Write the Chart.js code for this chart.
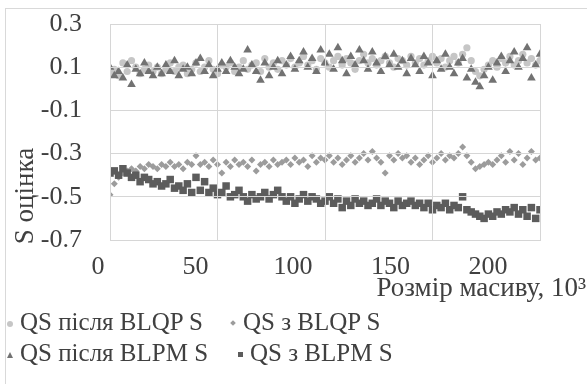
<!DOCTYPE html>
<html lang="uk">
<head>
<meta charset="utf-8">
<script src="https://cdn.jsdelivr.net/npm/chart.js@4/dist/chart.umd.min.js"></script>
<style>
  html, body { margin: 0; padding: 0; background: #fff; }
  #wrap { position: relative; width: 587px; height: 384px; overflow: hidden;
          font-family: "Liberation Serif", serif; color: #404040; }
  #frame { position: absolute; left: 5px; top: 8px; width: 640px; height: 420px; border: 1px solid #d9d9d9; }
  #chart { position: absolute; left: 0; top: 0; }
  .ttl { position: absolute; font-size: 27px; line-height: 30px; white-space: nowrap; }
  #xTitle { right: 1px; top: 272px; }
  #yTitle { left: 24px; top: 196px; transform: translate(-50%, -50%) rotate(-90deg); }
  .item { position: absolute; height: 30px; line-height: 30px; font-size: 25px; white-space: nowrap; }
  .mk { position: absolute; }
  .circle { width: 6px; height: 6px; border-radius: 50%; background: #c6c6c6; }
  .diamond { width: 4px; height: 4px; background: #9c9c9c; transform: rotate(45deg); }
  .triangle { width: 0; height: 0; border-left: 3px solid transparent; border-right: 3px solid transparent; border-bottom: 6px solid #727272; }
  .square { width: 5px; height: 5px; background: #5c5c5c; }
</style>
</head>
<body>
<div id="wrap">
  <div id="frame"></div>
  <canvas id="chart" width="587" height="384"></canvas>
  <div class="ttl" id="xTitle">Розмір масиву, 10³</div>
  <div class="ttl" id="yTitle">S оцінка</div>
  <div id="legend"></div>
</div>
<script>
// array size, thousands
const sizes = [
  0, 2, 4, 6, 8, 10, 12, 14, 16, 18, 20,
  22, 24, 26, 28, 30, 32, 34, 36, 38, 40,
  42, 44, 46, 48, 50, 52, 54, 56, 58, 60,
  62, 64, 66, 68, 70, 72, 74, 76, 78, 80,
  82, 84, 86, 88, 90, 92, 94, 96, 98, 100,
  102, 104, 106, 108, 110, 112, 114, 116, 118, 120,
  122, 124, 126, 128, 130, 132, 134, 136, 138, 140,
  142, 144, 146, 148, 150, 152, 154, 156, 158, 160,
  162, 164, 166, 168, 170, 172, 174, 176, 178, 180,
  182, 184, 186, 188, 190, 192, 194, 196, 198, 200
];

const qsAfterBLQP = [
  0.07, 0.09, 0.06, 0.12, 0.08, 0.13, 0.10, 0.07, 0.09, 0.11, 0.08,
  0.10, 0.07, 0.09, 0.12, 0.08, 0.10, 0.11, 0.07, 0.09, 0.12,
  0.08, 0.10, 0.13, 0.09, 0.07, 0.11, 0.10, 0.12, 0.08, 0.10,
  0.13, 0.09, 0.11, 0.12, 0.08, 0.14, 0.10, 0.12, 0.09, 0.13,
  0.11, 0.14, 0.10, 0.12, 0.15, 0.11, 0.13, 0.09, 0.14, 0.12,
  0.10, 0.13, 0.15, 0.11, 0.14, 0.12, 0.09, 0.13, 0.16, 0.12,
  0.14, 0.11, 0.13, 0.15, 0.12, 0.10, 0.14, 0.13, 0.11, 0.15,
  0.12, 0.14, 0.11, 0.13, 0.15, 0.12, 0.14, 0.10, 0.13, 0.15,
  0.12, 0.16, 0.19, 0.13, 0.08, 0.06, 0.09, 0.11, 0.13, 0.10,
  0.14, 0.12, 0.15, 0.11, 0.13, 0.16, 0.12, 0.14, 0.11, 0.13
];

const qsWithBLQP = [
  -0.49, -0.44, -0.41, -0.39, -0.38, -0.37, -0.38, -0.36, -0.37, -0.35, -0.36,
  -0.37, -0.35, -0.36, -0.34, -0.36, -0.35, -0.37, -0.34, -0.35, -0.31,
  -0.35, -0.34, -0.36, -0.33, -0.35, -0.39, -0.34, -0.36, -0.33, -0.35,
  -0.34, -0.36, -0.33, -0.38, -0.35, -0.34, -0.36, -0.33, -0.35, -0.34,
  -0.33, -0.35, -0.32, -0.34, -0.33, -0.36, -0.31, -0.34, -0.32, -0.33,
  -0.31, -0.34, -0.32, -0.35, -0.33, -0.31, -0.34, -0.32, -0.30, -0.33,
  -0.29, -0.32, -0.34, -0.39, -0.31, -0.33, -0.30, -0.32, -0.31, -0.34,
  -0.32, -0.35, -0.33, -0.31, -0.34, -0.32, -0.30, -0.33, -0.31, -0.32,
  -0.30, -0.27, -0.31, -0.34, -0.37, -0.36, -0.35, -0.34, -0.35, -0.33,
  -0.31, -0.34, -0.29, -0.33, -0.30, -0.35, -0.32, -0.29, -0.33, -0.32
];

const qsAfterBLPM = [
  0.10, 0.06, 0.08, 0.05, 0.11, 0.02, 0.09, 0.07, 0.12, 0.08, 0.06,
  0.10, 0.07, 0.11, 0.08, 0.13, 0.06, 0.09, 0.10, 0.07, 0.12,
  0.14, 0.08, 0.11, 0.06, 0.09, 0.12, 0.08, 0.13, 0.10, 0.07,
  0.09, 0.18, 0.11, 0.08, 0.04, 0.12, 0.06, 0.10, 0.13, 0.07,
  0.11, 0.15, 0.09, 0.13, 0.17, 0.10, 0.14, 0.08, 0.18, 0.12,
  0.16, 0.09, 0.19, 0.13, 0.07, 0.15, 0.11, 0.18, 0.13, 0.09,
  0.17, 0.12, 0.08, 0.15, 0.11, 0.16, 0.10, 0.13, 0.07, 0.14,
  0.11, 0.08, 0.15, 0.12, 0.06, 0.13, 0.09, 0.16, 0.10, 0.07,
  0.12, 0.14, 0.05, 0.09, 0.03, 0.01, 0.06, 0.10, 0.04, 0.12,
  0.15, 0.08, 0.13, 0.17, 0.10, 0.14, 0.19, 0.05, 0.11, 0.16
];

const qsWithBLPM = [
  -0.39, -0.38, -0.40, -0.37, -0.39, -0.41, -0.40, -0.43, -0.41, -0.42, -0.44,
  -0.43, -0.45, -0.44, -0.42, -0.46, -0.45, -0.47, -0.44, -0.48, -0.41,
  -0.47, -0.43, -0.48, -0.46, -0.49, -0.48, -0.45, -0.50, -0.49, -0.47,
  -0.50, -0.52, -0.49, -0.51, -0.50, -0.48, -0.51, -0.49, -0.47, -0.50,
  -0.52, -0.50, -0.53, -0.51, -0.49, -0.52, -0.50, -0.51, -0.53, -0.52,
  -0.50, -0.53, -0.51, -0.55, -0.52, -0.54, -0.51, -0.53, -0.52, -0.54,
  -0.53, -0.51, -0.54, -0.52, -0.53, -0.55, -0.52, -0.54, -0.53, -0.52,
  -0.54, -0.53, -0.55, -0.53, -0.56, -0.54, -0.55, -0.53, -0.56, -0.54,
  -0.55, -0.50, -0.56, -0.57, -0.58, -0.59, -0.60, -0.58, -0.59, -0.57,
  -0.58, -0.56, -0.57, -0.55, -0.58, -0.56, -0.59, -0.55, -0.60, -0.56
];

const seriesNames = ["QS після BLQP S", "QS з BLQP S", "QS після BLPM S", "QS з BLPM S"];
const xTicks = [0, 50, 100, 150, 200];
const yTicks = [-0.7, -0.5, -0.3, -0.1, 0.1, 0.3];

const serif = "Liberation Serif";
const textColor = "#404040";
const gridColor = "#d6d6d6";

const toPoints = vals => vals.map((v, i) => ({x: sizes[i], y: v}));

// legend as page text, two rows like the original
const legendSpots = [
    {mk: "circle", mx: 7, tx: 20, top: 307},
    {mk: "diamond", mx: 231, tx: 243, top: 307},
    {mk: "triangle", mx: 7, tx: 20, top: 338},
    {mk: "square", mx: 238, tx: 250, top: 338}
];
const legendBox = document.getElementById("legend");
seriesNames.forEach((name, i) => {
    const s = legendSpots[i];
    const mk = document.createElement("div");
    mk.className = "mk " + s.mk;
    mk.style.left = s.mx + "px";
    mk.style.top = (s.top + 14) + "px";
    legendBox.appendChild(mk);
    const txt = document.createElement("div");
    txt.className = "item";
    txt.style.left = s.tx + "px";
    txt.style.top = s.top + "px";
    txt.textContent = name;
    legendBox.appendChild(txt);
});

new Chart(document.getElementById("chart"), {
    type: "scatter",
    data: {
        datasets: [
            {label: seriesNames[0], data: toPoints(qsAfterBLQP), pointStyle: "circle", pointRadius: 3.6,
                backgroundColor: "#c6c6c6", borderColor: "#c6c6c6", borderWidth: 0, order: 4},
            {label: seriesNames[1], data: toPoints(qsWithBLQP), pointStyle: "rectRot", pointRadius: 3.5,
                backgroundColor: "#9c9c9c", borderColor: "#9c9c9c", borderWidth: 0, order: 3},
            {label: seriesNames[2], data: toPoints(qsAfterBLPM), pointStyle: "triangle", pointRadius: 5,
                backgroundColor: "#727272", borderColor: "#727272", borderWidth: 0, order: 2},
            {label: seriesNames[3], data: toPoints(qsWithBLPM), pointStyle: "rect", pointRadius: 5.3,
                backgroundColor: "#5c5c5c", borderColor: "#5c5c5c", borderWidth: 0, order: 1}
        ]
    },
    options: {
        responsive: false,
        animation: false,
        events: [],
        layout: {padding: {left: 2, right: 47, top: 24, bottom: 80.5}},
        scales: {
            x: {
                type: "linear", position: "bottom", min: 0, max: 200,
                afterBuildTicks: s => { s.ticks = xTicks.map(v => ({value: v})); },
                afterFit: s => { s.height = 0; },
                ticks: {display: false},
                grid: {color: gridColor, drawTicks: false, z: 1},
                border: {color: gridColor, z: 1}
            },
            // label-only axis: the printed numbers drift left of their grid lines in the original
            xl: {
                type: "linear", position: "bottom", min: 0, max: 220.5,
                afterBuildTicks: s => { s.ticks = xTicks.map(v => ({value: v})); },
                afterFit: s => { s.height = 63.5; },
                ticks: {color: textColor, font: {family: serif, size: 26}, padding: 12, labelOffset: -12, maxRotation: 0},
                grid: {display: false, drawTicks: false},
                border: {display: false}
            },
            y: {
                min: -0.7, max: 0.3,
                afterBuildTicks: s => { s.ticks = yTicks.map(v => ({value: v})); },
                afterFit: s => { s.width = 108; },
                ticks: {color: textColor, font: {family: serif, size: 26}, padding: 0,
                    callback: v => v.toFixed(1)},
                // invisible tick marks keep the labels clear of the plot
                grid: {color: gridColor, drawTicks: true, tickLength: 28, tickColor: "rgba(0,0,0,0)", z: 1},
                border: {color: gridColor, z: 1}
            }
        },
        plugins: {
            legend: {display: false},
            tooltip: {enabled: false}
        }
    }
});
</script>
</body>
</html>
